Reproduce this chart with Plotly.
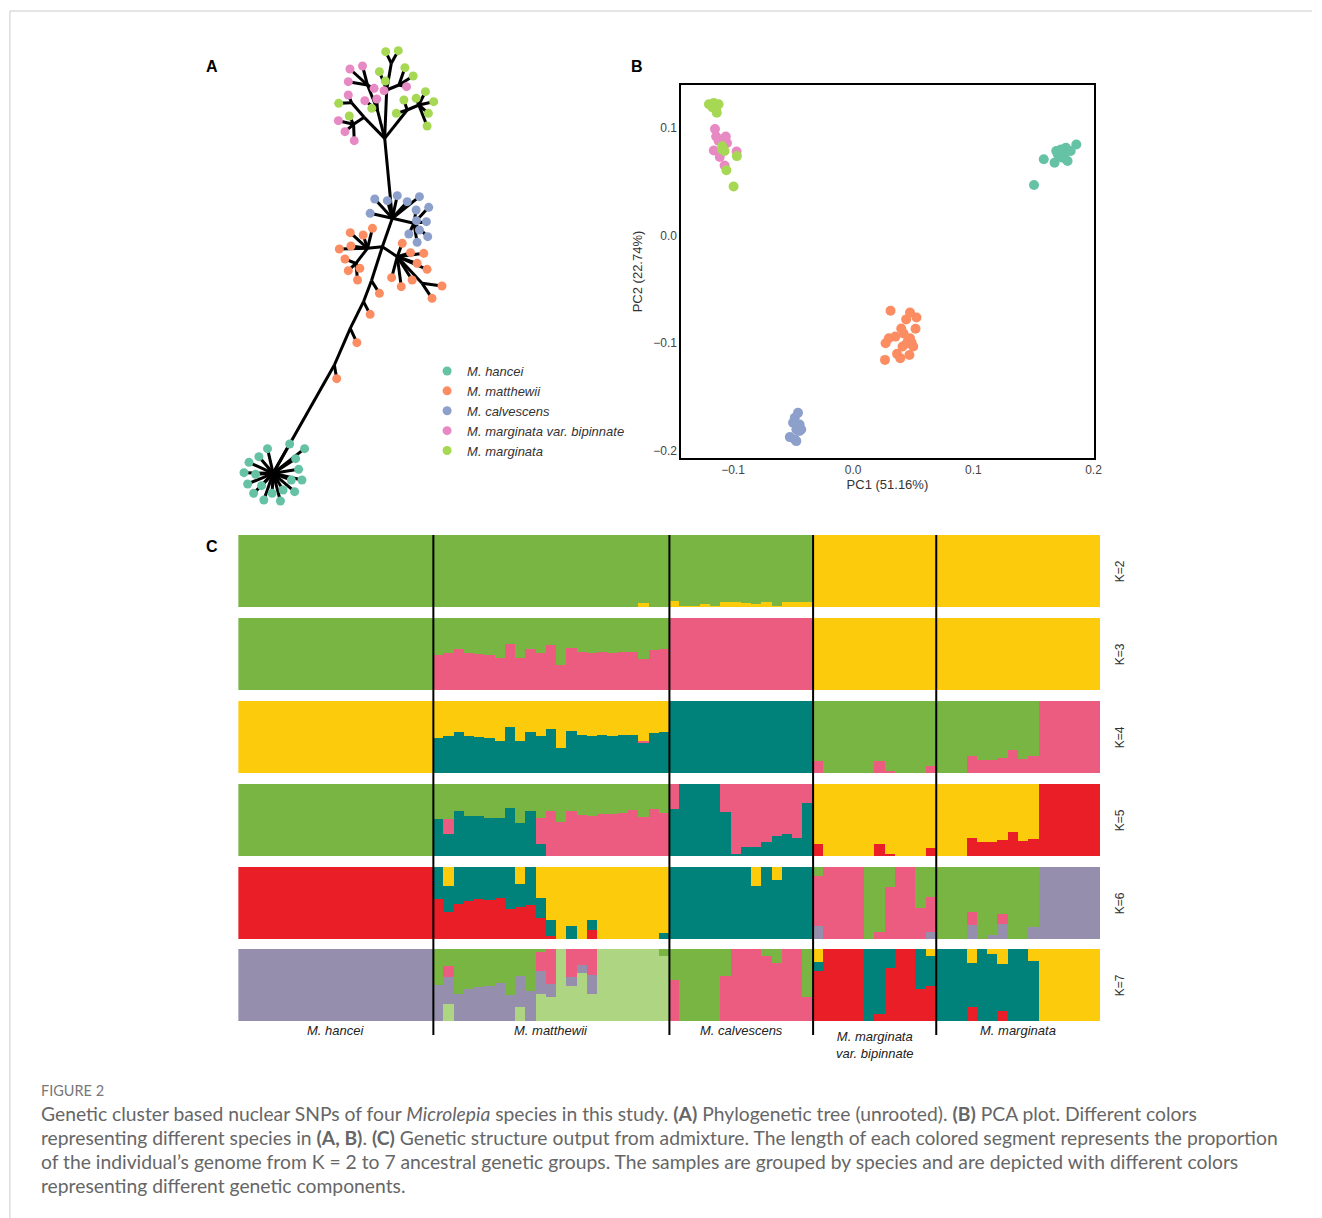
import plotly.graph_objects as go

W, H = 1322, 1218

# ---------------- species / colours ----------------
species = ["M. hancei", "M. matthewii", "M. calvescens",
           "M. marginata var. bipinnate", "M. marginata"]
species_colors = ["#66C2A5", "#FC8D62", "#8DA0CB", "#E78AC3", "#A6D854"]

# ---------------- Panel A: unrooted tree (layout units) ----------------
# internal nodes
node_x = [135, 320, 368, 408, 432, 465, 495, 472, 420, 385, 510, 585, 560,
          410, 378, 372, 450, 420, 478, 492, 515, 540, 575]
node_y = [1330, 1005, 895, 815, 752, 650, 565, 325, 655, 700, 680, 760, 580,
          262, 283, 218, 240, 165, 180, 100, 165, 240, 225]
node_parent = [-1, 0, 1, 2, 3, 4, 5, 6, 5, 8, 5, 10, 6,
               7, 13, 13, 7, 16, 7, 18, 18, 7, 21]
# tips: parent node, x, y, species index
tip_parent = ([0] * 19 +
              [8] * 5 + [9] * 4 + [10] * 8 + [11] * 2 + [4, 3, 2, 1] +
              [6] * 6 + [12] * 8 +
              [14, 14, 14, 15, 16, 16, 17, 17, 17, 17, 18, 20] +
              [14, 15, 16, 18, 18, 19, 19, 20, 20, 21, 21, 22, 22, 22, 22, 22])
tip_x = ([118, 185, 230, 92, 203, 62, 212, 47, 82, 222, 58, 190, 100, 200, 76, 165, 132, 107, 157] +
         [368, 407, 435, 370, 335, 352, 362, 397, 390, 525, 550, 590, 570, 600, 493, 522, 555, 645, 615,
          456, 428, 388, 327] +
         [442, 480, 510, 540, 577, 428, 605, 567, 598, 568, 545, 577, 602, 570] +
         [332, 352, 380, 362, 412, 448, 367, 362, 405, 440, 470, 538] +
         [365, 333, 433, 474, 456, 475, 513, 533, 558, 507, 530, 567, 595, 620, 604, 600])
tip_y = ([1256, 1242, 1256, 1280, 1286, 1297, 1318, 1328, 1333, 1350, 1362, 1350, 1367, 1385, 1390, 1380, 1390, 1410, 1413] +
         [608, 615, 595, 648, 657, 687, 722, 715, 750, 640, 668, 670, 700, 718, 743, 770, 750, 768, 805,
          790, 853, 938, 1046] +
         [507, 512, 497, 515, 500, 550, 532, 540, 575, 572, 612, 600, 620, 637] +
         [272, 305, 332, 195, 212, 207, 117, 155, 108, 175, 182, 170] +
         [258, 220, 235, 153, 125, 65, 62, 113, 138, 250, 210, 205, 185, 215, 250, 288])
tip_species = [0] * 19 + [1] * 23 + [2] * 14 + [3] * 12 + [4] * 16

# ---------------- Panel B: PCA ----------------
pc1_hancei = [0.1505, 0.1586, 0.1676, 0.169, 0.173, 0.177, 0.173, 0.1757, 0.1784, 0.1857, 0.181, 0.1703, 0.1743]
pc2_hancei = [0.047, 0.0708, 0.0677, 0.0785, 0.080, 0.0815, 0.0738, 0.0754, 0.0692, 0.0846, 0.0785, 0.0754, 0.0723]
pc1_matthewii = [0.0311, 0.0473, 0.0527, 0.0441, 0.0519, 0.040, 0.0419, 0.0351, 0.0297, 0.027, 0.0473,
                 0.0446, 0.0486, 0.050, 0.0411, 0.0365, 0.0392, 0.0468, 0.0265, 0.0459]
pc2_matthewii = [-0.0698, -0.0714, -0.076, -0.0778, -0.0865, -0.0862, -0.0908, -0.0938, -0.0954, -0.100, -0.0954,
                 -0.100, -0.0994, -0.103, -0.103, -0.1098, -0.1138, -0.1108, -0.1154, -0.0969]
pc1_calvescens = [-0.0459, -0.0486, -0.050, -0.0446, -0.0473, -0.0432, -0.0527, -0.0486, -0.0473, -0.0446]
pc2_calvescens = [-0.1646, -0.1692, -0.1738, -0.1754, -0.180, -0.180, -0.1871, -0.1892, -0.1908, -0.1815]
pc1_bipinnate = [-0.115, -0.114, -0.106, -0.112, -0.105, -0.116, -0.111, -0.107, -0.097]
pc2_bipinnate = [0.099, 0.092, 0.092, 0.088, 0.086, 0.079, 0.073, 0.065, 0.078]
pc1_marginata = [-0.120, -0.116, -0.112, -0.114, -0.1135, -0.117, -0.109, -0.109, -0.107, -0.1055, -0.0968, -0.0995]
pc2_marginata = [0.122, 0.123, 0.122, 0.117, 0.114, 0.119, 0.083, 0.080, 0.0785, 0.0606, 0.0738, 0.0455]

# ---------------- Panel C: admixture proportions ----------------
group_labels = ["M. hancei", "M. matthewii", "M. calvescens", "M. marginata<br>var. bipinnate", "M. marginata"]
group_sizes = [19, 23, 14, 12, 16]
k_labels = ["K=2", "K=3", "K=4", "K=5", "K=6", "K=7"]

c_green = "#78B543"
c_yellow = "#FCCB0B"
c_pink = "#EC5B80"
c_teal = "#00827A"
c_red = "#E91E27"
c_gray = "#958FAD"
c_lgreen = "#AED581"

K2_yellow = ([0] * 19 + [0] * 20 + [0.05] + [0] * 2 +
             [0.08, 0.01, 0.01, 0.035, 0.01, 0.07, 0.07, 0.06, 0.04, 0.07, 0.01, 0.07, 0.07, 0.07] + [1] * 28)

K3_pink = ([0] * 19 +
           [0.48, 0.51, 0.57, 0.51, 0.50, 0.49, 0.44, 0.64, 0.44, 0.57, 0.52, 0.62, 0.35, 0.59, 0.53, 0.52,
            0.53, 0.51, 0.53, 0.53, 0.43, 0.56, 0.57] + [1] * 14 + [0] * 28)
K3_yellow = [0] * 56 + [1] * 28

K4_teal = ([0] * 19 +
           [0.48, 0.51, 0.57, 0.51, 0.50, 0.49, 0.44, 0.64, 0.44, 0.57, 0.52, 0.61, 0.35, 0.59, 0.53, 0.52,
            0.53, 0.51, 0.53, 0.53, 0.42, 0.55, 0.57] + [1] * 14 + [0] * 28)
K4_pink = ([0] * 19 + [0] * 20 + [0.02] + [0] * 2 + [0] * 14 +
           [0.16, 0, 0, 0, 0, 0, 0.16, 0.03, 0, 0, 0, 0.10] +
           [0, 0, 0, 0.24, 0.18, 0.18, 0.21, 0.32, 0.20, 0.23] + [1] * 6)
K4_yellow = ([1] * 19 +
             [0.52, 0.49, 0.43, 0.49, 0.50, 0.51, 0.56, 0.36, 0.56, 0.43, 0.48, 0.39, 0.65, 0.41, 0.47, 0.48,
              0.47, 0.49, 0.47, 0.47, 0.56, 0.45, 0.43] + [0] * 42)

K5_red = ([0] * 56 + [0.17, 0, 0, 0, 0, 0, 0.17, 0.03, 0, 0, 0, 0.11] +
          [0, 0, 0, 0.25, 0.19, 0.19, 0.22, 0.33, 0.21, 0.24] + [1] * 6)
K5_teal = ([0] * 19 +
           [0.51, 0.31, 0.63, 0.55, 0.56, 0.53, 0.53, 0.66, 0.46, 0.62, 0.17, 0, 0, 0, 0, 0, 0, 0, 0, 0, 0, 0, 0] +
           [0.65, 1, 1, 1, 1, 0.61, 0.03, 0.13, 0.13, 0.20, 0.28, 0.30, 0.25, 0.74] + [0] * 28)
K5_pink = ([0] * 19 +
           [0, 0.20, 0, 0, 0, 0, 0, 0, 0, 0, 0.36, 0.63, 0.47, 0.63, 0.57, 0.55, 0.59, 0.58, 0.60, 0.64, 0.54, 0.65, 0.60] +
           [0.35, 0, 0, 0, 0, 0.39, 0.97, 0.87, 0.87, 0.80, 0.72, 0.70, 0.75, 0.26] + [0] * 28)
K5_yellow = ([0] * 56 + [0.83, 1, 1, 1, 1, 1, 0.83, 0.97, 1, 1, 1, 0.89] +
             [1, 1, 1, 0.75, 0.81, 0.81, 0.78, 0.67, 0.79, 0.76] + [0] * 6)

K6_gray = ([0] * 56 + [0.18, 0, 0, 0, 0, 0, 0, 0, 0, 0, 0, 0.10] +
           [0, 0, 0, 0.20, 0, 0.06, 0.21, 0, 0, 0.16] + [1] * 6)
K6_red = ([1] * 19 +
          [0.56, 0.37, 0.48, 0.53, 0.55, 0.54, 0.57, 0.42, 0.45, 0.47, 0.29, 0.04, 0, 0, 0, 0.13, 0, 0, 0, 0, 0, 0, 0] +
          [0] * 42)
K6_teal = ([0] * 19 +
           [0.44, 0.37, 0.52, 0.47, 0.45, 0.46, 0.43, 0.58, 0.31, 0.53, 0.28, 0.22, 0, 0.18, 0, 0.14, 0, 0, 0, 0, 0, 0, 0.09] +
           [1, 1, 1, 1, 1, 1, 1, 1, 0.74, 1, 0.82, 1, 1, 1] + [0] * 28)
K6_pink = ([0] * 56 + [0.69, 1, 1, 1, 1, 0, 0.10, 0.72, 1, 1, 0.43, 0.49] +
           [0, 0, 0, 0.17, 0, 0, 0.14, 0, 0, 0] + [0] * 6)
K6_yellow = ([0] * 19 +
             [0, 0.26, 0, 0, 0, 0, 0, 0, 0.24, 0, 0.43, 0.74, 1, 0.82, 1, 0.73, 1, 1, 1, 1, 1, 1, 0.91] +
             [0, 0, 0, 0, 0, 0, 0, 0, 0.26, 0, 0.18, 0, 0, 0] + [0] * 28)

K7_lgreen = ([0] * 19 +
             [0, 0.23, 0, 0, 0, 0, 0, 0, 0.19, 0, 0.38, 0.33, 1, 0.49, 0.67, 0.37, 1, 1, 1, 1, 1, 1, 0.90] +
             [0] * 42)
K7_red = ([0] * 56 + [0.69, 1, 1, 1, 1, 0, 0.10, 0.73, 1, 1, 0.44, 0.48] +
          [0, 0, 0, 0.19, 0, 0, 0.14, 0, 0, 0] + [0] * 6)
K7_gray = ([1] * 19 +
           [0.50, 0.38, 0.38, 0.44, 0.47, 0.48, 0.53, 0.36, 0.44, 0.41, 0.31, 0.19, 0, 0.12, 0.11, 0.27, 0, 0, 0, 0, 0, 0, 0] +
           [0] * 42)
K7_pink = ([0] * 19 +
           [0, 0.16, 0, 0, 0, 0, 0, 0, 0, 0, 0.27, 0.48, 0, 0.39, 0.22, 0.36, 0, 0, 0, 0, 0, 0, 0] +
           [0.57, 0, 0, 0, 0, 0.63, 1, 1, 1, 0.90, 0.80, 1, 1, 0.34] + [0] * 28)
K7_teal = ([0] * 56 + [0.13, 0, 0, 0, 0, 1, 0.90, 0.27, 0, 0, 0.56, 0.42] +
           [1, 1, 1, 0.62, 1, 0.93, 0.65, 1, 1, 0.84] + [0] * 6)
K7_yellow = ([0] * 56 + [0.18, 0, 0, 0, 0, 0, 0, 0, 0, 0, 0, 0.10] +
             [0, 0, 0, 0.19, 0, 0.07, 0.21, 0, 0, 0.16] + [1] * 6)

# rows: list of (colour, values) bottom -> top; last colour fills the remainder
rows = [
    [(c_yellow, K2_yellow), (c_green, None)],
    [(c_pink, K3_pink), (c_yellow, K3_yellow), (c_green, None)],
    [(c_teal, K4_teal), (c_pink, K4_pink), (c_yellow, K4_yellow), (c_green, None)],
    [(c_red, K5_red), (c_teal, K5_teal), (c_pink, K5_pink), (c_yellow, K5_yellow), (c_green, None)],
    [(c_gray, K6_gray), (c_red, K6_red), (c_teal, K6_teal), (c_pink, K6_pink), (c_yellow, K6_yellow), (c_green, None)],
    [(c_lgreen, K7_lgreen), (c_red, K7_red), (c_gray, K7_gray), (c_pink, K7_pink), (c_teal, K7_teal),
     (c_yellow, K7_yellow), (c_green, None)],
]

# ---------------- helpers ----------------
def px(x):
    return x / W


def py(y):
    return 1 - y / H


fig = go.Figure()

# ---- tree edges
ex, ey = [], []
all_x = node_x + tip_x
all_y = node_y + tip_y
all_parent = node_parent + tip_parent
for i, p in enumerate(all_parent):
    if p < 0:
        continue
    ex += [node_x[p], all_x[i], None]
    ey += [node_y[p], all_y[i], None]
fig.add_trace(go.Scatter(x=ex, y=ey, mode="lines", line=dict(color="black", width=3),
                         hoverinfo="skip", showlegend=False, xaxis="x", yaxis="y"))

# ---- tree tips (with legend)
for s, (name, col) in enumerate(zip(species, species_colors)):
    xs = [tip_x[i] for i in range(len(tip_x)) if tip_species[i] == s]
    ys = [tip_y[i] for i in range(len(tip_y)) if tip_species[i] == s]
    fig.add_trace(go.Scatter(x=xs, y=ys, mode="markers", name="<i>%s</i>" % name,
                             marker=dict(color=col, size=9, line=dict(width=0)),
                             legendgroup=name, showlegend=True, xaxis="x", yaxis="y"))

# ---- PCA
pca = [(pc1_hancei, pc2_hancei), (pc1_matthewii, pc2_matthewii), (pc1_calvescens, pc2_calvescens),
       (pc1_bipinnate, pc2_bipinnate), (pc1_marginata, pc2_marginata)]
for s, (xs, ys) in enumerate(pca):
    fig.add_trace(go.Scatter(x=xs, y=ys, mode="markers", name=species[s],
                             marker=dict(color=species_colors[s], size=10, line=dict(width=0)),
                             legendgroup=species[s], showlegend=False, xaxis="x2", yaxis="y2"))

# ---- admixture rows
n_ind = sum(group_sizes)
idx = list(range(n_ind))
row_top = [535, 618, 701, 784, 867, 949]
row_h = 72
for r, comps in enumerate(rows):
    xa = "x%d" % (r + 3)
    ya = "y%d" % (r + 3)
    explicit = [v for c, v in comps if v is not None]
    for col, vals in comps:
        if vals is None:
            vals = [max(0.0, 1 - sum(e[i] for e in explicit)) for i in range(n_ind)]
        fig.add_trace(go.Bar(x=idx, y=vals, width=1, marker=dict(color=col, line=dict(width=0)),
                             hoverinfo="skip", showlegend=False, xaxis=xa, yaxis=ya))

layout = dict(
    width=W, height=H, autosize=False,
    margin=dict(l=0, r=0, t=0, b=0),
    paper_bgcolor="white", plot_bgcolor="white",
    barmode="stack", bargap=0,
    font=dict(family="Liberation Sans, Arial, sans-serif", color="#333"),
    showlegend=True,
    legend=dict(x=px(430), y=py(356), xanchor="left", yanchor="top",
                font=dict(size=13, color="#333"), bgcolor="rgba(0,0,0,0)",
                itemclick=False, tracegroupgap=0),
)
# tree axes
layout["xaxis"] = dict(domain=[px(230), px(650)], range=[0, 1260], visible=False, anchor="y")
layout["yaxis"] = dict(domain=[py(510), py(30)], range=[1440, 0], visible=False, anchor="x")
# PCA axes
layout["xaxis2"] = dict(domain=[px(686), px(1101)], range=[-0.143, 0.2], anchor="y2",
                        tickvals=[-0.1, 0.0, 0.1, 0.2], ticktext=["\u22120.1", "0.0", "0.1", "0.2"],
                        showgrid=False, zeroline=False, showline=True, mirror=True,
                        linecolor="black", linewidth=2, ticks="",
                        tickfont=dict(size=12, color="#444"),
                        title=dict(text="PC1 (51.16%)", font=dict(size=13, color="#333"), standoff=2))
layout["yaxis2"] = dict(domain=[py(458), py(85)], range=[-0.2065, 0.1398], anchor="x2",
                        tickvals=[-0.2, -0.1, 0.0, 0.1], ticktext=["\u22120.2", "\u22120.1", "0.0", "0.1"],
                        showgrid=False, zeroline=False, showline=True, mirror=True,
                        linecolor="black", linewidth=2, ticks="",
                        tickfont=dict(size=12, color="#444"),
                        title=dict(text="PC2 (22.74%)", font=dict(size=13, color="#333"), standoff=8))
# admixture axes
for r in range(6):
    layout["xaxis%d" % (r + 3)] = dict(domain=[px(240), px(1108)], range=[-0.5, n_ind - 0.5],
                                       visible=False, anchor="y%d" % (r + 3))
    layout["yaxis%d" % (r + 3)] = dict(domain=[py(row_top[r] + row_h), py(row_top[r])], range=[0, 1],
                                       visible=False, anchor="x%d" % (r + 3))

# divider lines and labels
shapes = []
annotations = []
cum = 0
for g, n in enumerate(group_sizes):
    if g > 0:
        shapes.append(dict(type="line", xref="x3", yref="paper", x0=cum - 0.5, x1=cum - 0.5,
                           y0=py(1035), y1=py(535), line=dict(color="black", width=2)))
    centre = cum + (n - 1) / 2
    lab = group_labels[g]
    if "<br>" in lab:
        parts = lab.split("<br>")
        txt = "<i>%s</i><br><i>%s</i>" % (parts[0], parts[1])
        ytop = 1027
    else:
        txt = "<i>%s</i>" % lab
        ytop = 1021
    annotations.append(dict(text=txt, xref="x3", yref="paper", x=centre, y=py(ytop),
                            xanchor="center", yanchor="top", showarrow=False,
                            font=dict(size=13, color="#222")))
    cum += n

for r, kl in enumerate(k_labels):
    annotations.append(dict(text=kl, xref="paper", yref="paper", x=px(1128), y=py(row_top[r] + row_h / 2),
                            textangle=-90, showarrow=False, xanchor="center", yanchor="middle",
                            font=dict(size=12, color="#333")))

# panel letters
for letter, (lx, ly) in {"A": (213, 66), "B": (641, 66), "C": (213, 547)}.items():
    annotations.append(dict(text="<b>%s</b>" % letter, xref="paper", yref="paper", x=px(lx), y=py(ly),
                            showarrow=False, xanchor="center", yanchor="middle",
                            font=dict(size=16, color="black", family="Liberation Sans, Arial")))

# caption
cap_font = "Lato, Open Sans, sans-serif"
annotations.append(dict(text="FIGURE 2", xref="paper", yref="paper", x=px(39), y=py(1090),
                        xanchor="left", yanchor="middle", showarrow=False,
                        font=dict(size=14.5, color="#777", family=cap_font)))
caption_lines = [
    "Genetic cluster based nuclear SNPs of four <i>Microlepia</i> species in this study. <b>(A)</b> Phylogenetic tree (unrooted). <b>(B)</b> PCA plot. Different colors",
    "representing different species in <b>(A, B)</b>. <b>(C)</b> Genetic structure output from admixture. The length of each colored segment represents the proportion",
    "of the individual\u2019s genome from K = 2 to 7 ancestral genetic groups. The samples are grouped by species and are depicted with different colors",
    "representing different genetic components.",
]
for i, line in enumerate(caption_lines):
    annotations.append(dict(text=line, xref="paper", yref="paper", x=px(39), y=py(1113 + 24 * i),
                            xanchor="left", yanchor="middle", showarrow=False,
                            font=dict(size=19.3, color="#666", family=cap_font)))

# page frame
shapes.append(dict(type="line", xref="paper", yref="paper", x0=px(10), x1=px(1321), y0=py(11), y1=py(11),
                   line=dict(color="#cccccc", width=1)))
shapes.append(dict(type="line", xref="paper", yref="paper", x0=px(10), x1=px(10), y0=py(11), y1=0,
                   line=dict(color="#cccccc", width=1)))

layout["shapes"] = shapes
layout["annotations"] = annotations
fig.update_layout(**layout)

fig.write_html("out.html", config={"displayModeBar": False},
               post_script="document.body.style.margin='0';document.body.style.overflow='hidden';")
